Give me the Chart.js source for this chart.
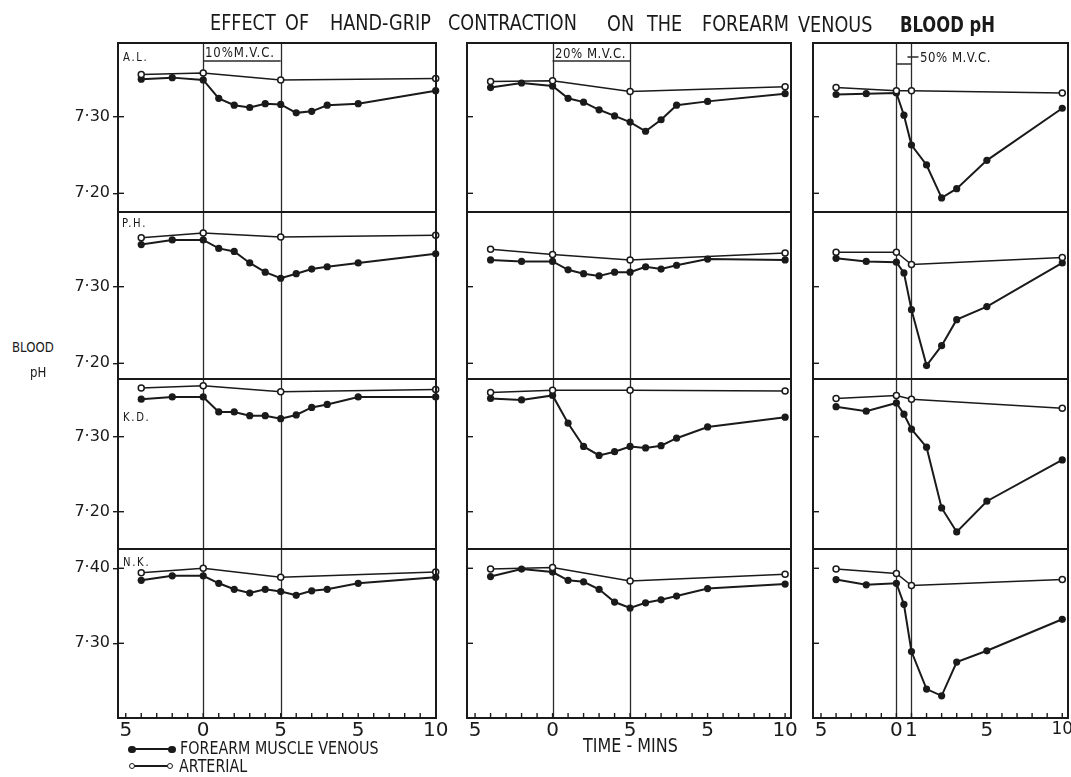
<!DOCTYPE html>
<html><head><meta charset="utf-8">
<script src="https://cdn.jsdelivr.net/npm/chart.js@4.4.1/dist/chart.umd.min.js"></script>
<style>
html,body{margin:0;padding:0;background:#fff;}
#wrap{position:relative;width:1071px;height:777px;overflow:hidden;background:#fff;font-family:"DejaVu Sans",sans-serif;color:#1a1a1a;}
.pane{position:absolute;}
.t{position:absolute;white-space:nowrap;line-height:1;transform-origin:0 0;transform:scaleX(0.84);}
.dot{position:absolute;border-radius:50%;box-sizing:border-box;}
.ln{position:absolute;background:#1a1a1a;}
</style></head><body><div id="wrap"></div>
<script>
// ---------------- DATA ----------------
const subjects = ['A.L.', 'P.H.', 'K.D.', 'N.K.'];
const mvcLabels = ['10%M.V.C.', '20% M.V.C.', '50% M.V.C.'];
const yTickValues = [[7.2, 7.3], [7.2, 7.3], [7.2, 7.3], [7.3, 7.4]];
const xTickValues10 = [-5, 0, 5, 10, 15];
const xTickLabels10 = ['5', '0', '5', '5', '10'];
const xTickValues50 = [-5, 0, 1, 6, 11];
const xTickLabels50 = ['5', '0', '1', '5', '10'];

// time (min) : before / during / after contraction
const timesVen = [-4, -2, 0, 1, 2, 3, 4, 5, 6, 7, 8, 10, 15];
const timesArt = [-4, 0, 5, 15];
const timesVen50 = [-4, -2, 0, 0.5, 1, 2, 3, 4, 6, 11];
const timesArt50 = [-4, 0, 1, 11];

// 10% M.V.C.
const al10Ven = [7.349, 7.351, 7.348, 7.324, 7.315, 7.312, 7.317, 7.316, 7.305, 7.307, 7.315, 7.317, 7.334];
const al10Art = [7.355, 7.357, 7.348, 7.350];
const ph10Ven = [7.355, 7.361, 7.361, 7.350, 7.346, 7.331, 7.319, 7.311, 7.317, 7.323, 7.326, 7.331, 7.343];
const ph10Art = [7.364, 7.370, 7.365, 7.367];
const kd10Ven = [7.350, 7.353, 7.353, 7.333, 7.333, 7.328, 7.328, 7.324, 7.329, 7.339, 7.343, 7.353, 7.353];
const kd10Art = [7.365, 7.368, 7.360, 7.363];
const nk10Ven = [7.384, 7.390, 7.390, 7.380, 7.372, 7.367, 7.372, 7.369, 7.364, 7.370, 7.372, 7.380, 7.388];
const nk10Art = [7.394, 7.400, 7.388, 7.395];

// 20% M.V.C.
const al20Ven = [7.338, 7.344, 7.340, 7.324, 7.319, 7.309, 7.301, 7.293, 7.281, 7.296, 7.315, 7.320, 7.330];
const al20Art = [7.346, 7.347, 7.333, 7.339];
const ph20Ven = [7.335, 7.333, 7.333, 7.322, 7.317, 7.314, 7.319, 7.319, 7.326, 7.323, 7.328, 7.336, 7.335];
const ph20Art = [7.349, 7.342, 7.335, 7.344];
const kd20Ven = [7.351, 7.349, 7.355, 7.318, 7.287, 7.275, 7.280, 7.287, 7.285, 7.288, 7.298, 7.313, 7.326];
const kd20Art = [7.359, 7.362, 7.362, 7.361];
const nk20Ven = [7.389, 7.399, 7.395, 7.384, 7.382, 7.372, 7.355, 7.347, 7.354, 7.358, 7.363, 7.373, 7.379];
const nk20Art = [7.399, 7.401, 7.383, 7.392];

// 50% M.V.C.
const al50Ven = [7.329, 7.330, 7.331, 7.302, 7.263, 7.237, 7.194, 7.206, 7.243, 7.311];
const al50Art = [7.338, 7.334, 7.334, 7.331];
const ph50Ven = [7.337, 7.333, 7.332, 7.318, 7.270, 7.197, 7.223, 7.257, 7.274, 7.331];
const ph50Art = [7.345, 7.345, 7.329, 7.338];
const kd50Ven = [7.340, 7.334, 7.345, 7.330, 7.310, 7.286, 7.205, 7.173, 7.214, 7.269];
const kd50Art = [7.351, 7.355, 7.350, 7.338];
const nk50Ven = [7.385, 7.378, 7.380, 7.352, 7.289, 7.239, 7.230, 7.275, 7.290, 7.332];
const nk50Art = [7.399, 7.393, 7.377, 7.385];

const venous = [[al10Ven, ph10Ven, kd10Ven, nk10Ven], [al20Ven, ph20Ven, kd20Ven, nk20Ven], [al50Ven, ph50Ven, kd50Ven, nk50Ven]];
const arterial = [[al10Art, ph10Art, kd10Art, nk10Art], [al20Art, ph20Art, kd20Art, nk20Art], [al50Art, ph50Art, kd50Art, nk50Art]];
const exerciseBounds = [[0, 5], [0, 5], [0, 1]];

// ---------------- LAYOUT ----------------
const FONT = "'DejaVu Sans', sans-serif";
const INK = '#1a1a1a';
const wrap = document.getElementById('wrap');
const colBox = [[118, 436], [467, 791], [813, 1068]];
const rowBox = [[43, 212], [212, 379], [379, 549], [549, 718]];
const xLim = [[-5.5, 15.02], [-5.52, 15.38], [-5.53, 11.38]];
const yLim = [[7.1756, 7.3962], [7.1795, 7.3975], [7.1503, 7.3769], [7.2004, 7.4257]];

const deco = {
  id: 'deco',
  beforeDatasetsDraw(chart, args, o) {
    const { ctx, chartArea: a } = chart;
    const x = chart.scales.x;
    ctx.save();
    ctx.strokeStyle = '#2a2a2a';
    ctx.lineWidth = 1.3;
    exerciseBounds[o.c].forEach(v => {
      const px = Math.round(x.getPixelForValue(v)) + 0.5;
      ctx.beginPath(); ctx.moveTo(px, a.top); ctx.lineTo(px, a.bottom); ctx.stroke();
    });
    if (o.r === 0) {
      const [b0, b1] = exerciseBounds[o.c];
      const p0 = x.getPixelForValue(b0), p1 = x.getPixelForValue(b1);
      ctx.lineWidth = 1.5;
      const yb = o.c === 2 ? a.top + 21 : a.top + 18;
      ctx.beginPath(); ctx.moveTo(p0, yb); ctx.lineTo(p1, yb); ctx.stroke();
      if (o.c === 2) {
        ctx.beginPath(); ctx.moveTo(p1 - 4, a.top + 14); ctx.lineTo(p1 + 7, a.top + 14); ctx.stroke();
      }
    }
    ctx.restore();
  },
  afterDraw(chart, args, o) {
    const { ctx, chartArea: a } = chart;
    const x = chart.scales.x, y = chart.scales.y;
    ctx.save();
    ctx.strokeStyle = INK;
    ctx.lineWidth = 2;
    ctx.strokeRect(a.left, a.top, a.right - a.left, a.bottom - a.top);
    ctx.lineWidth = 1.4;
    yTickValues[o.r].forEach(v => {
      const py = y.getPixelForValue(v);
      ctx.beginPath(); ctx.moveTo(a.left, py); ctx.lineTo(a.left + 6, py); ctx.stroke();
    });
    if (o.r === 3) {
      const lo = Math.ceil(x.min), hi = Math.floor(x.max);
      for (let v = lo; v <= hi; v++) {
        const px = x.getPixelForValue(v);
        ctx.beginPath(); ctx.moveTo(px, a.bottom); ctx.lineTo(px, a.bottom - 5); ctx.stroke();
      }
    }
    ctx.restore();
  }
};

const pts = (t, v) => t.map((x, i) => ({ x, y: v[i] }));

function panel(c, r) {
  const [L, R] = colBox[c], [T, B] = rowBox[r];
  const showX = r === 3, showY = c === 0;
  const padL = showY ? 48 : 10, padR = 16, padT = 10, padB = showX ? 30 : 10;
  const W = R - L + padL + padR, H = B - T + padT + padB;
  const div = document.createElement('div');
  div.className = 'pane';
  div.style.cssText = `left:${L - padL}px;top:${T - padT}px;width:${W}px;height:${H}px`;
  const cv = document.createElement('canvas');
  cv.width = W; cv.height = H; cv.style.width = W + 'px'; cv.style.height = H + 'px';
  div.appendChild(cv); wrap.appendChild(div);

  const tv = c === 2 ? timesVen50 : timesVen;
  const ta = c === 2 ? timesArt50 : timesArt;
  const xtv = c === 2 ? xTickValues50 : xTickValues10;
  const xtl = c === 2 ? xTickLabels50 : xTickLabels10;

  new Chart(cv, {
    type: 'line',
    data: {
      datasets: [
        { label: 'ARTERIAL', data: pts(ta, arterial[c][r]), borderColor: INK, borderWidth: 1.5,
          pointRadius: 3, pointBackgroundColor: '#fff', pointBorderColor: INK, pointBorderWidth: 1.5,
          tension: 0, clip: false },
        { label: 'FOREARM MUSCLE VENOUS', data: pts(tv, venous[c][r]), borderColor: INK, borderWidth: 2,
          pointRadius: 3.6, pointBackgroundColor: INK, pointBorderColor: INK, pointBorderWidth: 0,
          tension: 0, clip: false }
      ]
    },
    options: {
      responsive: false, animation: false, devicePixelRatio: 1,
      layout: { padding: { left: showY ? 0 : padL, right: padR, top: padT, bottom: showX ? 0 : padB } },
      plugins: { legend: { display: false }, tooltip: { enabled: false }, deco: { c, r } },
      scales: {
        x: {
          type: 'linear', min: xLim[c][0], max: xLim[c][1], display: showX,
          afterBuildTicks: s => { s.ticks = xtv.map(v => ({ value: v })); },
          afterFit: s => { s.height = showX ? padB : 0; s.paddingLeft = 0; s.paddingRight = 0; },
          grid: { display: false, drawTicks: false },
          border: { display: false },
          ticks: { autoSkip: false, maxRotation: 0, padding: 1, color: INK,
            font: ctx => ({ family: FONT, size: (c === 2 && ctx.tick && ctx.tick.value === 11) ? 17 : 20 }),
            callback: v => { const i = xtv.indexOf(v); return i >= 0 ? xtl[i] : ''; } }
        },
        y: {
          type: 'linear', min: yLim[r][0], max: yLim[r][1], display: showY,
          afterBuildTicks: s => { s.ticks = yTickValues[r].map(v => ({ value: v })); },
          afterFit: s => { s.width = showY ? padL : 0; s.paddingTop = 0; s.paddingBottom = 0; },
          grid: { drawOnChartArea: false, drawTicks: true, tickLength: 5, color: INK, tickColor: INK, lineWidth: 1.4 },
          border: { display: false },
          ticks: { padding: 3, color: INK, font: { family: FONT, size: 16 },
            callback: v => v.toFixed(2).replace('.', '\u00B7') }
        }
      }
    },
    plugins: [deco]
  });
}

for (let c = 0; c < 3; c++) for (let r = 0; r < 4; r++) panel(c, r);

// ---------------- TEXT ----------------
function txt(s, left, top, size, extra) {
  const d = document.createElement('div');
  d.className = 't';
  d.textContent = s;
  d.style.left = left + 'px'; d.style.top = top + 'px'; d.style.fontSize = size + 'px';
  if (extra) Object.assign(d.style, extra);
  wrap.appendChild(d);
}
const titleWords = [['EFFECT', 210, 12.5], ['OF', 285, 12.5], ['HAND-GRIP', 330, 12.5], ['CONTRACTION', 448, 13],
  ['ON', 607, 13.5], ['THE', 647, 14], ['FOREARM', 702, 14], ['VENOUS', 798, 15]];
titleWords.forEach(([w, l, t]) => txt(w, l, t, 21));
txt('BLOOD pH', 900, 15, 21, { fontWeight: 'bold', transform: 'scaleX(0.78)' });

txt('BLOOD', 12, 340, 14);
txt('pH', 30, 365, 14);

const labelPos = [[123, 50.6], [122, 216.6], [123, 410.6], [123, 555.6]];
subjects.forEach((s, i) => txt(s, labelPos[i][0], labelPos[i][1], 12, { letterSpacing: '2px' }));
const mvcPos = [[205, 45], [555, 46], [920, 50]];
mvcLabels.forEach((s, i) => txt(s, mvcPos[i][0], mvcPos[i][1], 14, { letterSpacing: i === 0 ? '1px' : '0.6px' }));

txt('TIME - MINS', 583, 736, 19);

// legend
function el(cls, css) { const d = document.createElement('div'); d.className = cls; Object.assign(d.style, css); wrap.appendChild(d); }
el('ln', { left: '132px', top: '748px', width: '40px', height: '2px' });
el('dot', { left: '128px', top: '745.5px', width: '7.5px', height: '7.5px', background: INK });
el('dot', { left: '168px', top: '745.5px', width: '7.5px', height: '7.5px', background: INK });
el('ln', { left: '132px', top: '765px', width: '38px', height: '1.5px' });
el('dot', { left: '128.5px', top: '762.5px', width: '6.5px', height: '6.5px', background: '#fff', border: '1.5px solid ' + INK });
el('dot', { left: '166.5px', top: '762.5px', width: '6.5px', height: '6.5px', background: '#fff', border: '1.5px solid ' + INK });
txt('FOREARM MUSCLE VENOUS', 180, 739.5, 17);
txt('ARTERIAL', 179, 757.5, 17);
</script>
</body></html>
